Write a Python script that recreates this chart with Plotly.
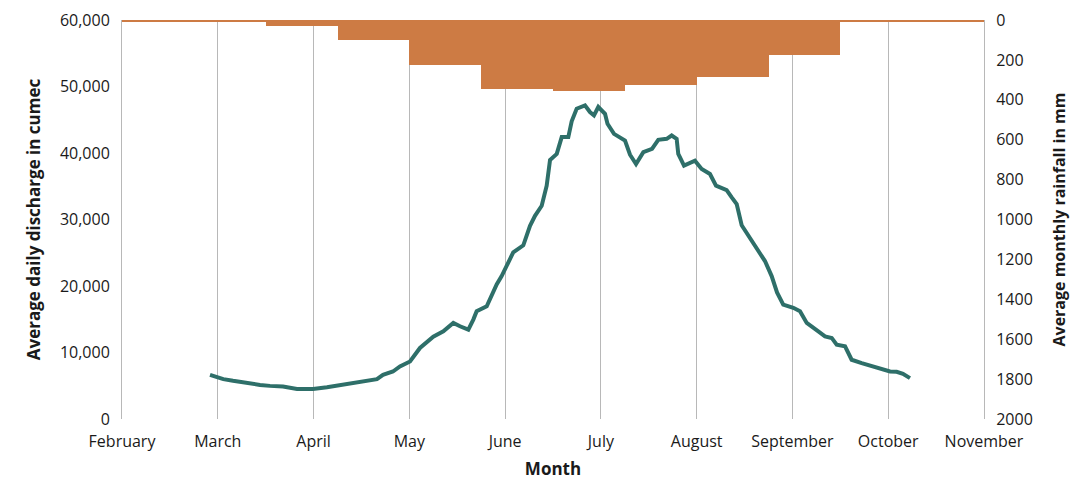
import plotly.graph_objects as go

# x-axis month labels (evenly spaced gridlines, February .. November)
month_labels = ["February", "March", "April", "May", "June", "July",
                "August", "September", "October", "November"]

# average monthly rainfall (mm), Jan..Dec, drawn as hanging bars on the right axis
rain_months = ["Jan", "Feb", "Mar", "Apr", "May", "Jun",
               "Jul", "Aug", "Sep", "Oct", "Nov", "Dec"]
rain_mm = [8, 9, 28, 99, 224, 344, 357, 324, 284, 174, 9, 7]

# average daily discharge (cumec); position in months from 1 February
month_pos = [0.919, 1.058, 1.159, 1.305, 1.441, 1.545, 1.681, 1.827, 1.994, 2.140,
             2.276, 2.412, 2.485, 2.621, 2.662, 2.725, 2.829, 2.902, 3.007, 3.111,
             3.250, 3.355, 3.459, 3.529, 3.616, 3.668, 3.703, 3.808, 3.912, 3.964,
             4.017, 4.085, 4.190, 4.260, 4.312, 4.382, 4.434, 4.469, 4.539, 4.591,
             4.660, 4.695, 4.747, 4.834, 4.886, 4.928, 4.973, 5.043, 5.069, 5.137,
             5.252, 5.304, 5.367, 5.443, 5.534, 5.599, 5.687, 5.739, 5.791, 5.808,
             5.868, 5.982, 6.052, 6.139, 6.202, 6.313, 6.366, 6.418, 6.470, 6.557,
             6.630, 6.713, 6.783, 6.839, 6.904, 7.009, 7.079, 7.149, 7.270, 7.340,
             7.410, 7.462, 7.549, 7.618, 7.723, 7.810, 7.914, 8.019, 8.088, 8.154,
             8.227]
discharge = [6640, 6000, 5740, 5390, 5130, 4980, 4880, 4530, 4530, 4790,
             5130, 5390, 5540, 5890, 6000, 6640, 7140, 7900, 8650, 10680,
             12380, 13180, 14450, 13940, 13440, 14950, 16200, 16960, 20230, 21490,
             23000, 25070, 26120, 29040, 30550, 32060, 35080, 38960, 39860, 42390,
             42390, 44770, 46660, 47160, 46160, 45650, 46920, 45900, 44390, 42880,
             41870, 39740, 38350, 40120, 40620, 41980, 42130, 42630, 42130, 39860,
             38100, 38850, 37600, 36840, 35080, 34430, 33330, 32310, 29140, 27180,
             25520, 23750, 21490, 19030, 17210, 16720, 16200, 14450, 13180, 12430,
             12190, 11170, 10920, 8910, 8410, 8000, 7600, 7140, 7100, 6800,
             6150]

FONT = "Open Sans"
GRID = "#b8b8b8"
TICKFONT = dict(family=FONT, size=16, color="#1a1a1a")
TITLEFONT = dict(family=FONT, size=17, color="#1a1a1a")

fig = go.Figure()
fig.add_trace(go.Scatter(
    x=month_pos, y=discharge, mode="lines",
    line=dict(color="#2e6f69", width=4),
    name="Discharge", showlegend=False,
))
fig.add_trace(go.Bar(
    x=rain_months, y=rain_mm, xaxis="x2", yaxis="y2",
    marker=dict(color="#cd7b44", line=dict(width=0)),
    name="Rainfall", showlegend=False,
))

# page body adds an 8px offset, so the figure is sized to the remaining window
fig.update_layout(
    width=1077, height=475,
    margin=dict(l=114, r=101, t=12, b=64),
    paper_bgcolor="white", plot_bgcolor="white",
    font=dict(family=FONT, size=15, color="#1a1a1a"),
    bargap=0,
    xaxis=dict(
        range=[0, 9], tickvals=list(range(10)), ticktext=month_labels,
        showgrid=True, gridcolor=GRID, gridwidth=1, zeroline=False,
        showline=False, ticks="", automargin=False,
        tickfont=TICKFONT, ticklabelstandoff=11,
        title=dict(text="<b>Month</b>", standoff=12, font=TITLEFONT),
    ),
    xaxis2=dict(
        type="category", categoryorder="array", categoryarray=rain_months,
        overlaying="x", visible=False, range=[-0.5, 11.5],
    ),
    yaxis=dict(
        range=[0, 60000], tickvals=list(range(0, 60001, 10000)), tickformat=",",
        showgrid=False, zeroline=False, showline=True, linecolor=GRID,
        ticks="", automargin=False, tickfont=TICKFONT, ticklabelstandoff=8,
        title=dict(text="<b>Average daily discharge in cumec</b>", standoff=14,
                   font=TITLEFONT),
    ),
    yaxis2=dict(
        range=[2000, 0], tickvals=list(range(0, 2001, 200)),
        overlaying="y", side="right", anchor="x",
        showgrid=False, zeroline=False, showline=True, linecolor=GRID,
        ticks="", automargin=False, tickfont=TICKFONT, ticklabelstandoff=8,
        title=dict(text="<b>Average monthly rainfall in mm</b>", standoff=22,
                   font=dict(family=FONT, size=16, color="#1a1a1a")),
    ),
)

fig.write_html("out.html")
